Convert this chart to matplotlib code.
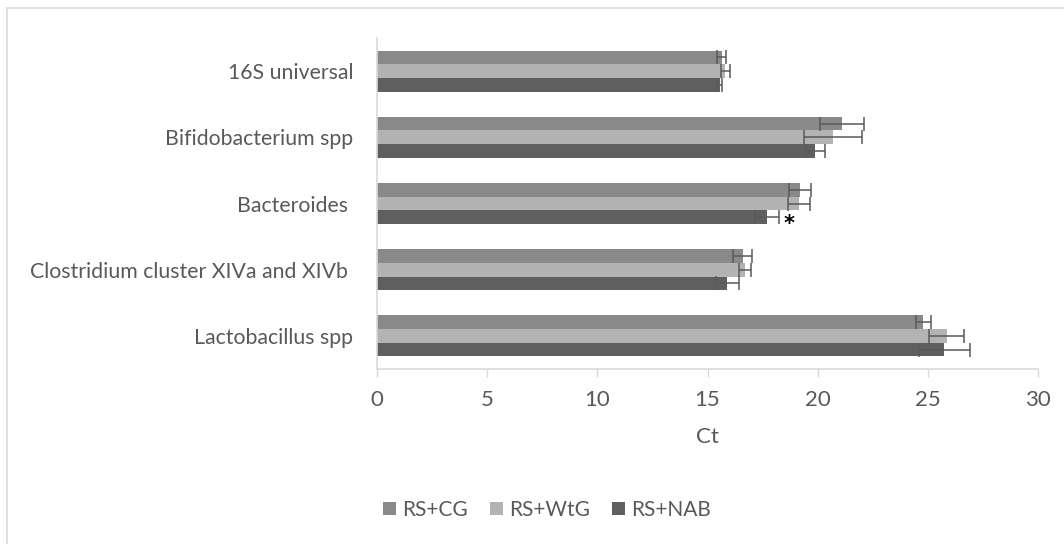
import matplotlib.pyplot as plt
from matplotlib.patches import Rectangle
import numpy as np

plt.rcParams['font.family'] = ['Lato', 'DejaVu Sans']

# Ct values per target (mean and error) for each diet group
categories = ['16S universal', 'Bifidobacterium spp', 'Bacteroides ',
              'Clostridium cluster XIVa and XIVb ', 'Lactobacillus spp']
groups = ['RS+CG', 'RS+WtG', 'RS+NAB']
ct_cg = [15.65, 21.1, 19.2, 16.6, 24.8]
ct_wtg = [15.8, 20.7, 19.15, 16.7, 25.85]
ct_nab = [15.55, 19.9, 17.7, 15.9, 25.75]
err_cg = [0.2, 1.0, 0.48, 0.43, 0.35]
err_wtg = [0.2, 1.32, 0.5, 0.27, 0.8]
err_nab = [0.1, 0.45, 0.55, 0.53, 1.15]
significant = [None, None, 'RS+NAB', None, None]

colors = ['#898989', '#b3b3b3', '#5f5f5f']
text_color = '#595959'
grid_color = '#d9d9d9'

fig = plt.figure(figsize=(10.64, 5.44), dpi=100)
ax = fig.add_axes([377 / 1064, 1 - 369 / 544, 661 / 1064, 331 / 544])

n = len(categories)
y = np.arange(n)[::-1]  # first category on top
h = 0.207
values = [ct_cg, ct_wtg, ct_nab]
errors = [err_cg, err_wtg, err_nab]
offsets = [h, 0, -h]

for vals, errs, off, col, name in zip(values, errors, offsets, colors, groups):
    ax.barh(y + off, vals, height=h, color=col, label=name)
    ax.errorbar(vals, y + off, xerr=errs, fmt='none', ecolor=text_color,
                elinewidth=1.1, capsize=5, capthick=1.1)

# significance marker
for i, g in enumerate(significant):
    if g is None:
        continue
    k = groups.index(g)
    ax.text(values[k][i] + errors[k][i] + 0.2, y[i] + offsets[k] - 0.1, '*',
            ha='left', va='center', fontsize=15, fontweight='bold',
            color='black', family='DejaVu Sans')

ax.set_xlim(0, 30)
ax.set_ylim(-0.5, n - 0.5)
ax.set_xticks(range(0, 31, 5))
ax.set_yticks(y)
ax.set_yticklabels(categories)
ax.tick_params(axis='y', length=0, pad=17, labelsize=15.3, labelcolor=text_color)
ax.tick_params(axis='x', length=6, color=grid_color, width=1, pad=9,
               labelsize=16, labelcolor=text_color)
for side in ['top', 'right']:
    ax.spines[side].set_visible(False)
for side in ['left', 'bottom']:
    ax.spines[side].set_color(grid_color)
    ax.spines[side].set_linewidth(1.2)

ax.set_xlabel('Ct', fontsize=16, color=text_color, labelpad=12)

leg = fig.legend(loc='center', bbox_to_anchor=(547 / 1064, 1 - 510 / 544),
                 ncol=3, frameon=False, fontsize=15, handlelength=0.62,
                 handleheight=0.62, columnspacing=1.05, handletextpad=0.3)
for t in leg.get_texts():
    t.set_color(text_color)

# chart area border
fig.patches.append(Rectangle((7 / 1064, -0.02), 1.02, 1 - 8 / 544 + 0.02,
                             transform=fig.transFigure, fill=False,
                             edgecolor=grid_color, linewidth=1.2))

fig.savefig('out.png', dpi=100)
